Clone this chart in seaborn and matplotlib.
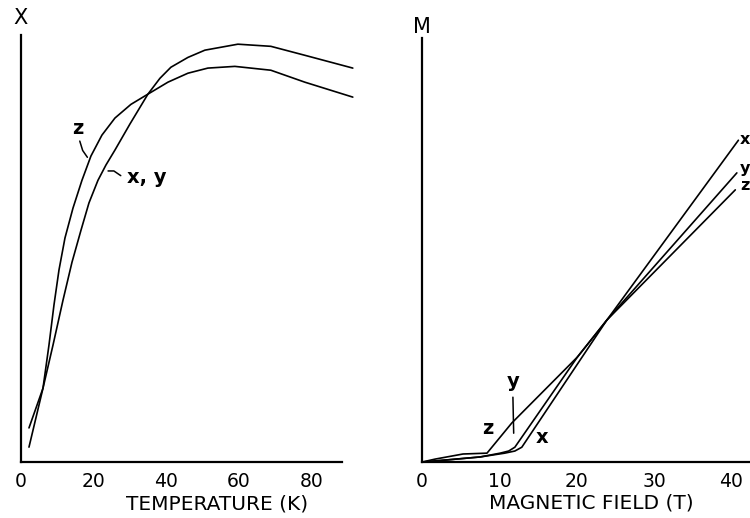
import matplotlib
matplotlib.use("Agg")
import matplotlib.pyplot as plt
import pandas as pd
import seaborn as sns

# --- Susceptibility vs temperature (arbitrary units) ---
temp_z = [2.20, 6.06, 7.71, 9.09, 10.47, 12.12, 14.33, 16.80, 19.28, 22.31, 25.90,
          30.30, 34.99, 40.50, 46.01, 51.52, 58.95, 68.87, 78.24, 91.46]
chi_z = [0.035, 0.173, 0.274, 0.368, 0.450, 0.525, 0.595, 0.660, 0.717, 0.766, 0.806,
         0.838, 0.862, 0.890, 0.911, 0.923, 0.927, 0.918, 0.890, 0.855]

temp_xy = [2.20, 6.06, 8.82, 11.57, 14.05, 16.53, 18.73, 21.21, 23.42, 25.90, 30.03,
           34.99, 38.29, 41.32, 46.01, 50.69, 59.78, 68.87, 78.24, 91.46]
chi_xy = [0.080, 0.173, 0.274, 0.379, 0.468, 0.543, 0.607, 0.660, 0.696, 0.731, 0.792,
          0.862, 0.899, 0.925, 0.948, 0.965, 0.979, 0.974, 0.953, 0.923]

# --- Magnetization vs field (arbitrary units) ---
field_x = [0.0, 3.2, 7.5, 10.7, 12.0, 12.9, 23.9, 40.9]
mag_x = [0.0, 0.005, 0.012, 0.021, 0.026, 0.035, 0.335, 0.759]

field_y = [0.0, 3.2, 7.5, 10.1, 11.2, 12.0, 20.1, 23.9, 40.7]
mag_y = [0.0, 0.005, 0.012, 0.021, 0.026, 0.035, 0.248, 0.335, 0.682]

field_z = [0.0, 1.7, 3.2, 5.3, 8.4, 11.6, 20.1, 23.9, 40.5]
mag_z = [0.0, 0.007, 0.012, 0.019, 0.021, 0.092, 0.248, 0.335, 0.642]

temp_ticks = [0, 20, 40, 60, 80]
field_ticks = [0, 10, 20, 30, 40]

sns.set_theme(style="white")
plt.rcParams["font.family"] = ["DejaVu Sans"]

chi_df = pd.concat([
    pd.DataFrame({"T": temp_z, "chi": chi_z, "axis": "z"}),
    pd.DataFrame({"T": temp_xy, "chi": chi_xy, "axis": "x, y"}),
])
mag_df = pd.concat([
    pd.DataFrame({"H": field_x, "M": mag_x, "axis": "x"}),
    pd.DataFrame({"H": field_y, "M": mag_y, "axis": "y"}),
    pd.DataFrame({"H": field_z, "M": mag_z, "axis": "z"}),
])

fig = plt.figure(figsize=(7.5, 5.18), dpi=100)
ax1 = fig.add_axes([0.028, 0.108, 0.445, 0.824])
ax2 = fig.add_axes([0.5627, 0.108, 0.4373, 0.8185])

black = {"z": "black", "x, y": "black", "x": "black", "y": "black"}

sns.lineplot(data=chi_df, x="T", y="chi", hue="axis", palette=black,
             sort=False, estimator=None, linewidth=1.2, legend=False, ax=ax1)
sns.lineplot(data=mag_df, x="H", y="M", hue="axis", palette=black,
             sort=False, estimator=None, linewidth=1.2, legend=False, ax=ax2)

for ax in (ax1, ax2):
    ax.set_facecolor("white")
    for side in ("top", "right"):
        ax.spines[side].set_visible(False)
    for side in ("left", "bottom"):
        ax.spines[side].set_color("black")
        ax.spines[side].set_linewidth(1.6)
    ax.set_yticks([])
    ax.set_ylabel("")
    ax.tick_params(axis="x", direction="in", length=6, width=1.6, color="black",
                   labelsize=13.5, pad=7, labelcolor="black")
    ax.set_ylim(0, 1.0)

ax1.set_xlim(0, 92)
ax1.spines["bottom"].set_bounds(0, 88.5)
ax1.set_xticks(temp_ticks)
ax1.set_xlabel("TEMPERATURE (K)", fontsize=14.5, color="black")
ax1.xaxis.set_label_coords(54 / 92, -0.075)
ax1.text(0, 1.04, "X", transform=ax1.transAxes, ha="center", va="center",
         fontsize=15, color="black")

ax2.set_xlim(0, 42.4)
ax2.set_xticks(field_ticks)
ax2.set_xlabel("MAGNETIC FIELD (T)", fontsize=14.5, color="black")
ax2.xaxis.set_label_coords(21.9 / 42.4, -0.075)
ax2.text(0, 1.027, "M", transform=ax2.transAxes, ha="center", va="center",
         fontsize=15, color="black")

# curve labels, left panel
lab = dict(fontsize=14, fontweight="bold", color="black")
ax1.text(15.7, 0.782, "z", ha="center", va="center", **lab)
ax1.plot([16.2, 17.0, 18.3], [0.752, 0.730, 0.714], color="black", lw=1.1)
ax1.text(29.3, 0.667, "x, y", ha="left", va="center", **lab)
ax1.plot([24.0, 25.6, 27.5], [0.682, 0.682, 0.671], color="black", lw=1.1)

# curve labels, right panel
ax2.text(8.5, 0.080, "z", ha="center", va="center", **lab)
ax2.text(11.8, 0.190, "y", ha="center", va="center", **lab)
ax2.plot([11.75, 11.85], [0.153, 0.068], color="black", lw=1.1)
ax2.text(15.5, 0.057, "x", ha="center", va="center", **lab)
for name, yv in (("x", 0.761), ("y", 0.692), ("z", 0.652)):
    ax2.text(41.1, yv, name, ha="left", va="center", clip_on=False,
             fontsize=11.5, fontweight="bold", color="black")

fig.savefig("out.png", dpi=100, facecolor="white")
